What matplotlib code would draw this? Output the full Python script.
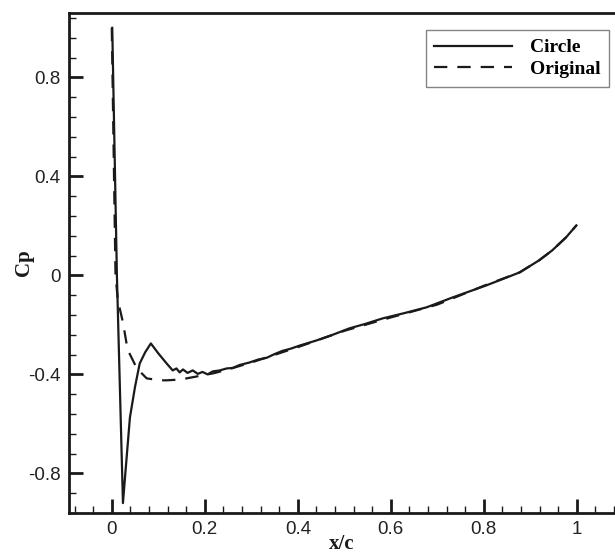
import matplotlib
matplotlib.use("Agg")
import matplotlib.pyplot as plt
from matplotlib.ticker import MultipleLocator

# Circle (solid)
circle_x = [0.001, 0.011, 0.024, 0.030, 0.039, 0.050, 0.060, 0.072, 0.084, 0.100,
            0.118, 0.131, 0.139, 0.146, 0.153, 0.163, 0.174, 0.185, 0.195, 0.206,
            0.217, 0.232, 0.247, 0.260, 0.275, 0.296, 0.315, 0.333, 0.350, 0.367,
            0.385, 0.405, 0.440, 0.475, 0.511, 0.545, 0.582, 0.630, 0.677, 0.733,
            0.806, 0.877, 0.919, 0.947, 0.977, 0.999]
circle_cp = [1.00, 0.00, -0.92, -0.78, -0.574, -0.45, -0.356, -0.31, -0.275, -0.315,
             -0.356, -0.384, -0.376, -0.392, -0.380, -0.394, -0.384, -0.398, -0.390, -0.400,
             -0.388, -0.384, -0.376, -0.374, -0.362, -0.352, -0.340, -0.333, -0.318, -0.305,
             -0.296, -0.283, -0.263, -0.240, -0.214, -0.196, -0.174, -0.152, -0.129, -0.089,
             -0.040, 0.012, 0.061, 0.101, 0.154, 0.202]

# Original (dashed)
orig_x = [0.000, 0.008, 0.013, 0.024, 0.034, 0.054, 0.075, 0.103, 0.118, 0.153,
          0.161, 0.195, 0.220, 0.250, 0.300, 0.400, 0.500, 0.600, 0.700, 0.800,
          0.877, 0.919, 0.947, 0.977, 0.999]
orig_cp = [1.00, 0.00, -0.10, -0.19, -0.30, -0.376, -0.416, -0.424, -0.424, -0.420,
           -0.416, -0.404, -0.395, -0.380, -0.352, -0.290, -0.224, -0.170, -0.118, -0.042,
           0.012, 0.061, 0.101, 0.154, 0.202]

fig = plt.figure(figsize=(6.15, 5.56), dpi=100)
ax = fig.add_axes([69/615, 43/556, 1 - 69/615, (513-13)/556])

ax.plot(circle_x, circle_cp, color="#1a1a1a", lw=1.6, label="Circle")
ax.plot(orig_x, orig_cp, color="#1a1a1a", lw=1.6, ls=(0, (6, 4.5)), label="Original")

ax.set_xlim(-0.092, 1.082)
ax.set_ylim(-0.96, 1.06)

ax.xaxis.set_minor_locator(MultipleLocator(0.04))
ax.yaxis.set_minor_locator(MultipleLocator(0.08))
ax.set_xticks([0, 0.2, 0.4, 0.6, 0.8, 1.0])
ax.set_xticklabels(["0", "0.2", "0.4", "0.6", "0.8", "1"])
ax.set_yticks([-0.8, -0.4, 0, 0.4, 0.8])
ax.set_yticklabels(["-0.8", "-0.4", "0", "0.4", "0.8"])

ax.tick_params(which="major", direction="in", length=10, width=2, color="#1a1a1a",
               labelsize=13.5, pad=6, labelcolor="#222222")
ax.tick_params(which="minor", direction="in", length=5, width=1, color="#1a1a1a")
ax.tick_params(top=False, right=False, which="both")
for lab in ax.get_xticklabels() + ax.get_yticklabels():
    lab.set_fontfamily(["Liberation Sans", "DejaVu Sans"])

for s in ["left", "bottom", "top"]:
    ax.spines[s].set_linewidth(2)
    ax.spines[s].set_color("#1a1a1a")
ax.spines["right"].set_visible(False)

ax.set_xlabel("x/c", fontsize=15, fontweight="bold", family=["Liberation Serif", "DejaVu Serif"],
              labelpad=-3, color="#1a1a1a")
ax.set_ylabel("Cp", fontsize=15, fontweight="bold", family=["Liberation Serif", "DejaVu Serif"],
              labelpad=-4, color="#1a1a1a")

leg = ax.legend(loc="upper right", frameon=True,
                prop={"family": "Liberation Serif", "weight": "bold", "size": 14},
                handlelength=4.0, handletextpad=0.9, borderpad=0.45, labelspacing=0.2,
                fancybox=False, edgecolor="#666666", borderaxespad=0)
leg.get_frame().set_linewidth(1)
leg.set_bbox_to_anchor(((609 - 69) / (615 - 69), (513 - 30) / 500), transform=ax.transAxes)

fig.savefig("out.png", dpi=100)
